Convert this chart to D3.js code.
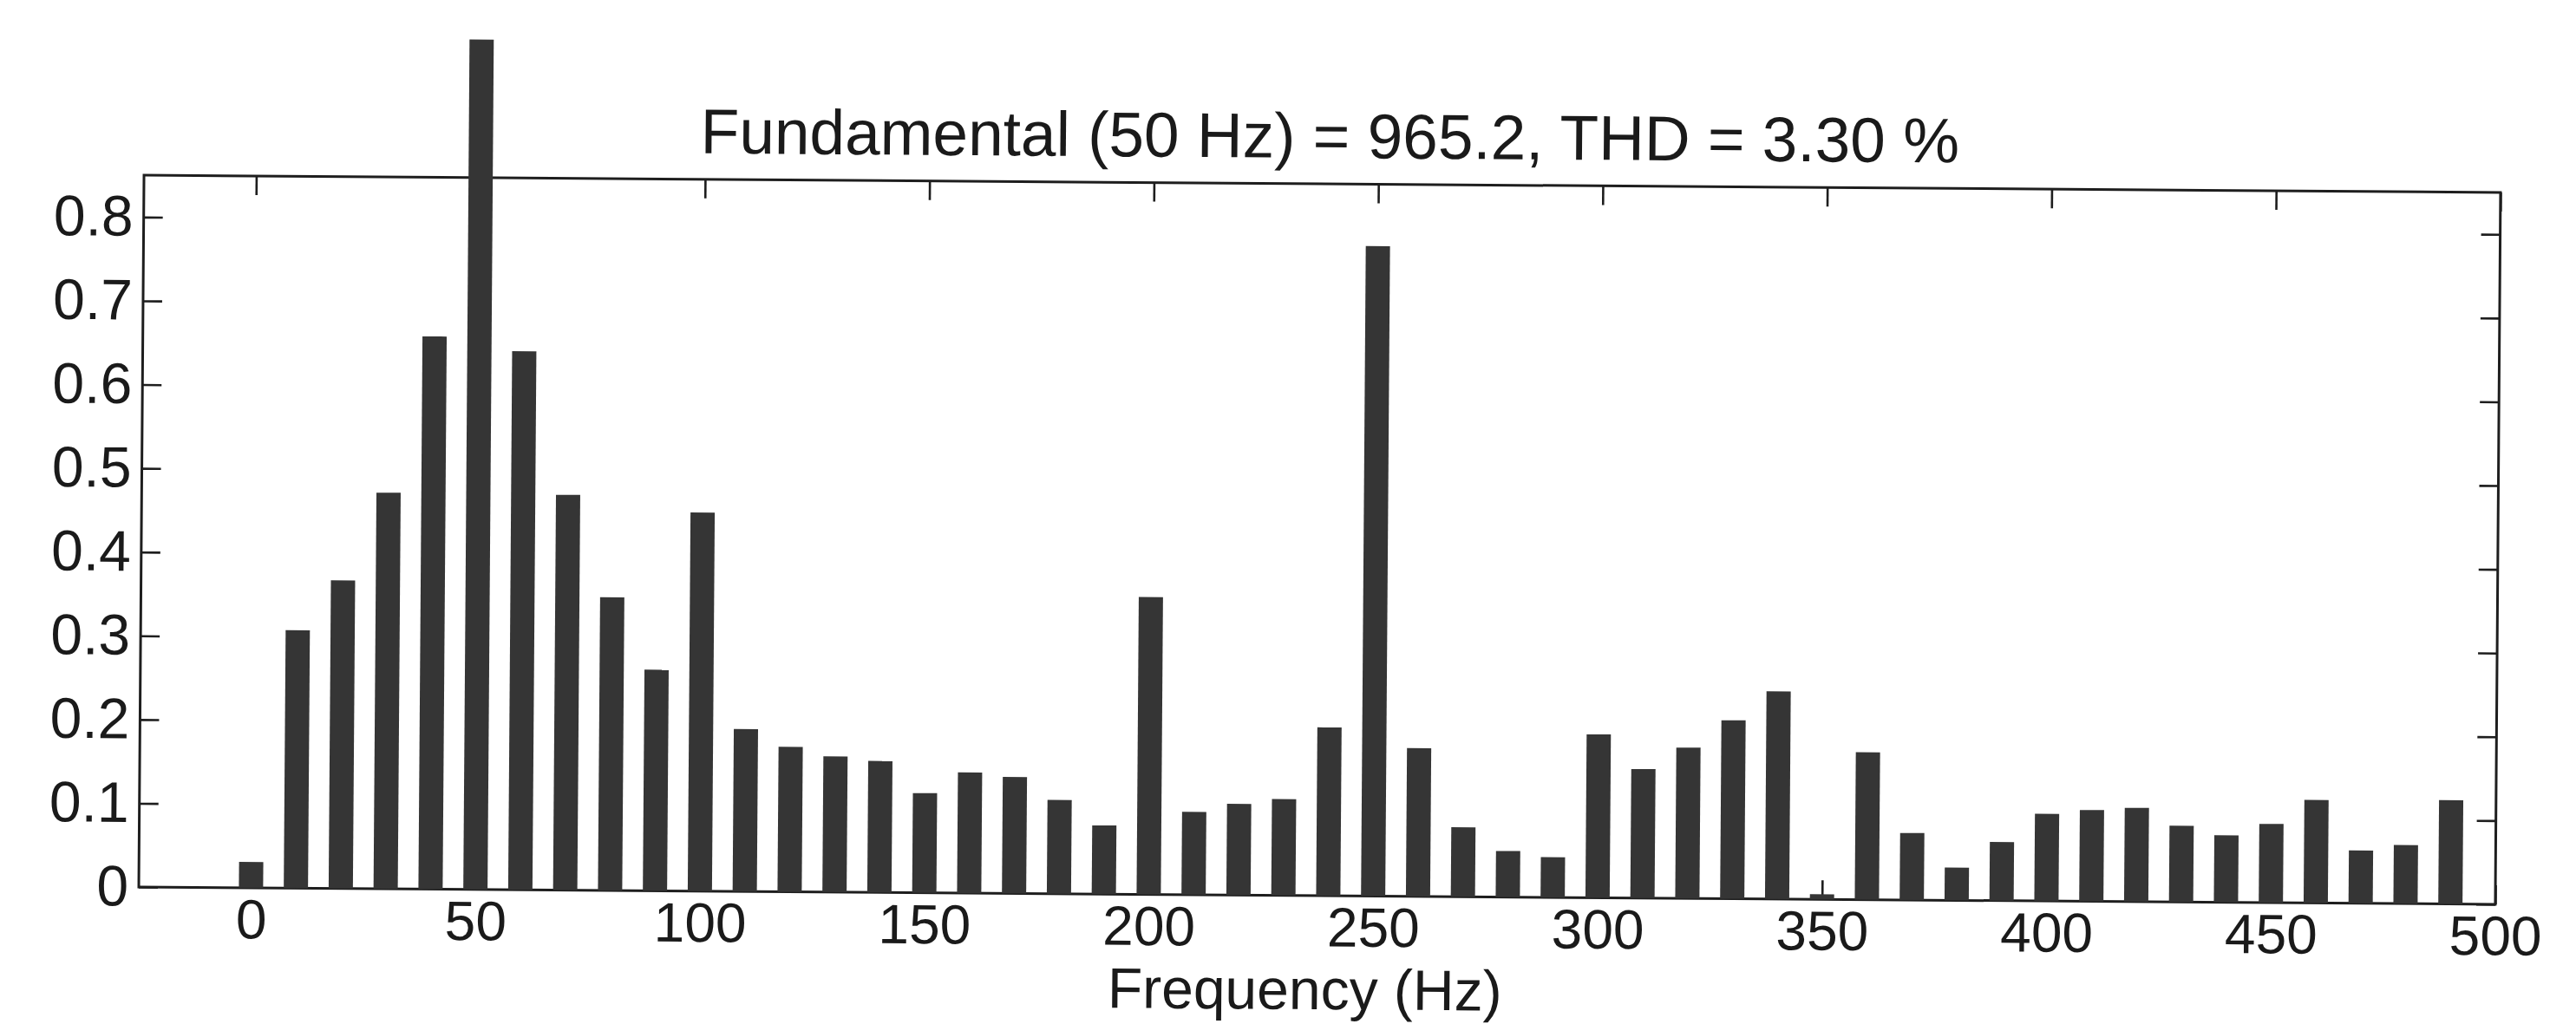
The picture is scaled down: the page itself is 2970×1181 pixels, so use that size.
<!DOCTYPE html>
<html>
<head>
<meta charset="utf-8">
<script src="https://cdn.jsdelivr.net/npm/d3@7/dist/d3.min.js"></script>
<style>
  html, body { margin: 0; padding: 0; background: #ffffff; }
  svg { display: block; }
  text { font-family: "Liberation Sans", Arial, Helvetica, sans-serif; fill: #1a1a1a; }
</style>
</head>
<body>
<script>
// Harmonic spectrum: frequency bins (Hz) and magnitude of each bin
const frequencies = [0, 10, 20, 30, 40, 50, 60, 70, 80, 90,
                     100, 110, 120, 130, 140, 150, 160, 170, 180, 190,
                     200, 210, 220, 230, 240, 250, 260, 270, 280, 290,
                     300, 310, 320, 330, 340, 350, 360, 370, 380, 390,
                     400, 410, 420, 430, 440, 450, 460, 470, 480, 490];
const magnitudes = [0.031, 0.308, 0.368, 0.473, 0.660, 1.015, 0.643, 0.472, 0.350, 0.264,
                    0.452, 0.194, 0.173, 0.162, 0.157, 0.119, 0.144, 0.139, 0.112, 0.082,
                    0.355, 0.099, 0.109, 0.115, 0.201, 0.776, 0.177, 0.083, 0.055, 0.048,
                    0.195, 0.154, 0.180, 0.213, 0.248, 0.006, 0.176, 0.080, 0.039, 0.070,
                    0.104, 0.109, 0.112, 0.091, 0.080, 0.094, 0.123, 0.063, 0.070, 0.124];
const xTickValues = [0, 50, 100, 150, 200, 250, 300, 350, 400, 450, 500];
const yTickValues = [0, 0.1, 0.2, 0.3, 0.4, 0.5, 0.6, 0.7, 0.8];
const titleText = "Fundamental (50 Hz) = 965.2, THD = 3.30 %";
const xLabelText = "Frequency (Hz)";

const W = 2970, H = 1181;
const plot = { left: 163, right: 2880, top: 212, bottom: 1033 };
const barHalfWidth = 2.7;   // Hz on each side of the bin centre
const tickLen = 22;

const svg = d3.select("body").append("svg")
  .attr("width", W).attr("height", H)
  .attr("viewBox", `0 0 ${W} ${H}`);

// the whole figure sits slightly tilted on the page
const g = svg.append("g")
  .attr("transform", `rotate(0.42, ${(plot.left + plot.right) / 2}, 620)`);

const x = d3.scaleLinear().domain([-25, 500]).range([plot.left, plot.right]);
const y = d3.scaleLinear().domain([0, 0.85]).range([plot.bottom, plot.top]);

function styleAxis(sel, withLabels, size) {
  sel.select(".domain").remove();
  sel.selectAll(".tick line").attr("stroke", "#1e1e1e").attr("stroke-width", 2.6);
  sel.selectAll(".tick text")
    .attr("fill", "#1a1a1a")
    .style("font-family", '"Liberation Sans", Arial, Helvetica, sans-serif')
    .style("font-size", size + "px");
  if (!withLabels) sel.selectAll(".tick text").remove();
}

// ticks point into the box on all four sides
g.append("g").attr("transform", `translate(0,${plot.bottom})`)
  .call(d3.axisBottom(x).tickValues(xTickValues).tickSize(-tickLen).tickPadding(13).tickFormat(d3.format("d")))
  .call(s => styleAxis(s, true, 64));
g.append("g").attr("transform", `translate(0,${plot.top})`)
  .call(d3.axisTop(x).tickValues(xTickValues).tickSize(-tickLen))
  .call(s => styleAxis(s, false, 64));
g.append("g").attr("transform", `translate(${plot.left},0)`)
  .call(d3.axisLeft(y).tickValues(yTickValues).tickSize(-tickLen).tickPadding(12)
        .tickFormat(d => d === 0 ? "0" : d3.format(".1f")(d)))
  .call(s => styleAxis(s, true, 66));
g.append("g").attr("transform", `translate(${plot.right},0)`)
  .call(d3.axisRight(y).tickValues(yTickValues).tickSize(-tickLen))
  .call(s => styleAxis(s, false, 66));

// axes box
g.append("rect")
  .attr("x", x(-25)).attr("y", y(0.85))
  .attr("width", x(500) - x(-25)).attr("height", y(0) - y(0.85))
  .attr("fill", "none").attr("stroke", "#1e1e1e").attr("stroke-width", 3);

// spectrum bars, drawn over the box
const bins = frequencies.map((f, i) => ({ f, v: magnitudes[i] }));
g.append("g").selectAll("rect.bar").data(bins).join("rect")
  .attr("class", "bar")
  .attr("x", d => x(d.f - barHalfWidth))
  .attr("width", d => x(d.f + barHalfWidth) - x(d.f - barHalfWidth))
  .attr("y", d => y(d.v))
  .attr("height", d => y(0) - y(d.v))
  .attr("fill", "#353535");

// title and axis label
g.append("text")
  .attr("x", 1530).attr("y", 182)
  .attr("text-anchor", "middle")
  .style("font-size", "73px")
  .text(titleText);

g.append("text")
  .attr("x", 1508).attr("y", 1164)
  .attr("text-anchor", "middle")
  .style("font-size", "66px")
  .text(xLabelText);
</script>
</body>
</html>
